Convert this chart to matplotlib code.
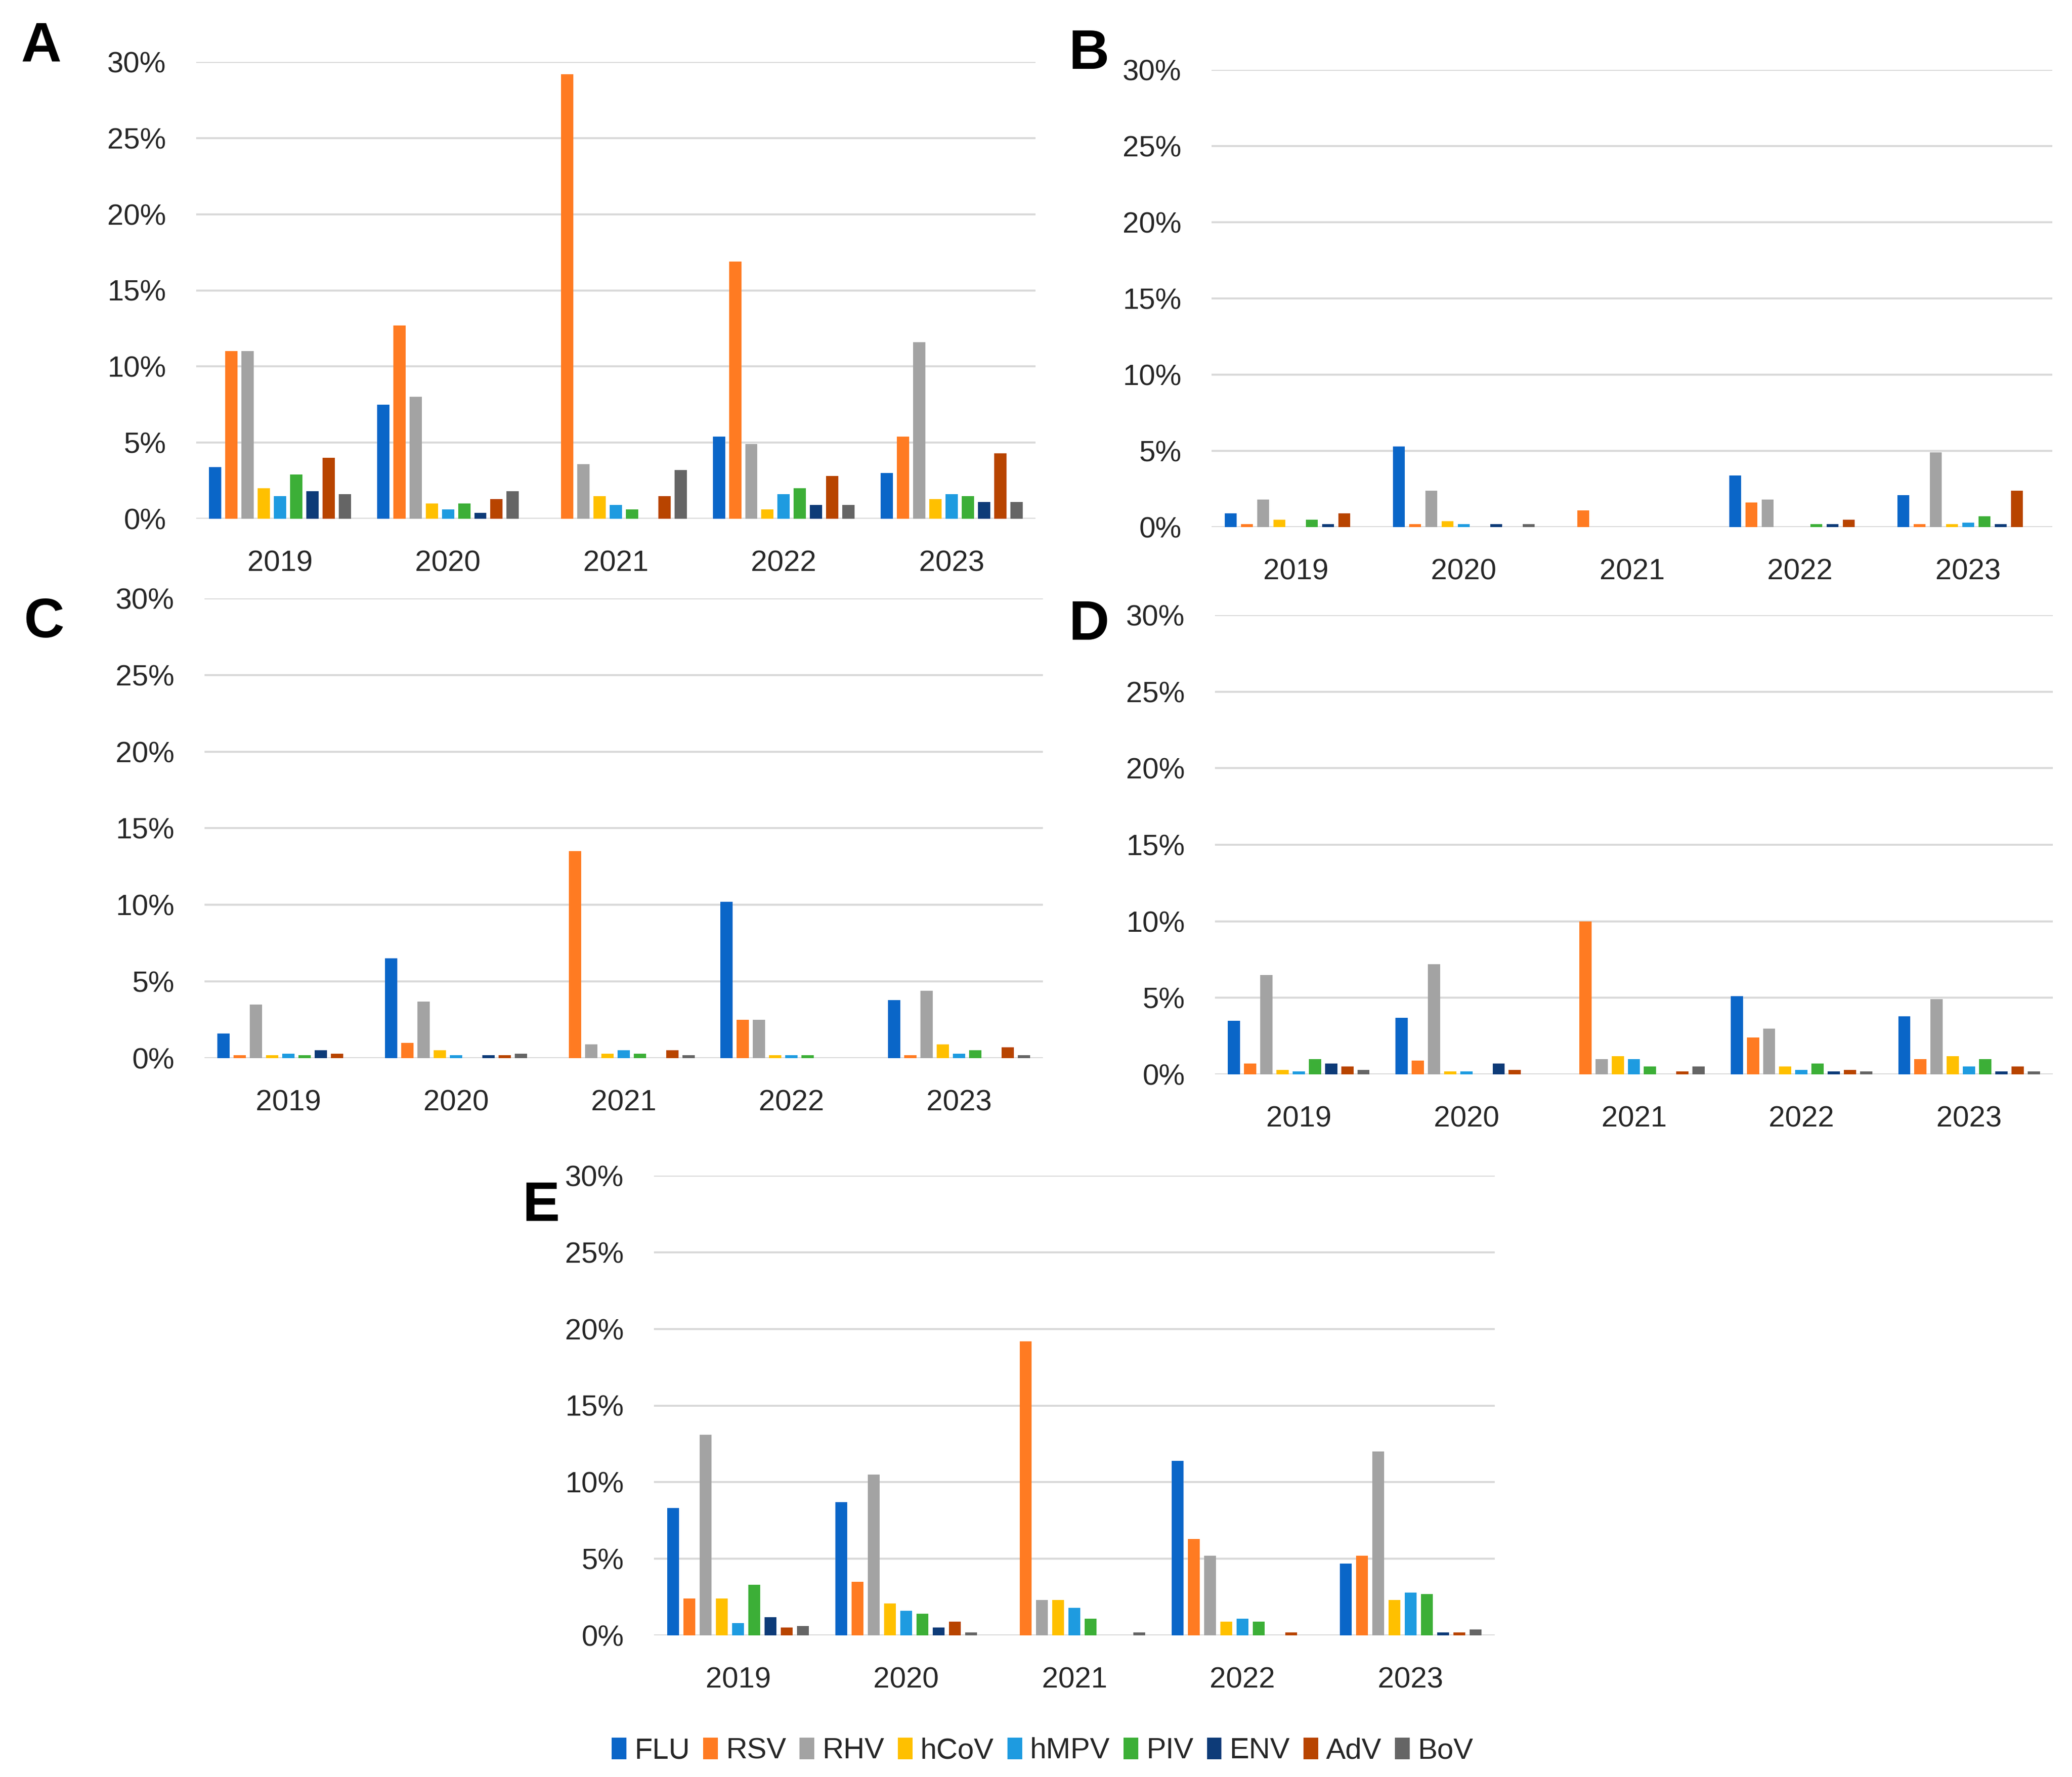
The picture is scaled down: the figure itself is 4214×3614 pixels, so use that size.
import numpy as np
import matplotlib
matplotlib.use("Agg")
import matplotlib.pyplot as plt
from matplotlib.patches import Patch

plt.rcParams['font.family'] = ['Liberation Sans Narrow', 'Liberation Sans', 'DejaVu Sans']

years = ['2019', '2020', '2021', '2022', '2023']
viruses = ['FLU', 'RSV', 'RHV', 'hCoV', 'hMPV', 'PIV', 'ENV', 'AdV', 'BoV']
colors = ['#0A66C8', '#FF7B22', '#A3A3A3', '#FFC000', '#1E9BE0',
          '#3CAF37', '#0D3B78', '#B84400', '#656565']

# positivity (%) per virus, one list per year
# panel A
a_2019 = [3.4, 11.0, 11.0, 2.0, 1.5, 2.9, 1.8, 4.0, 1.6]
a_2020 = [7.5, 12.7, 8.0, 1.0, 0.6, 1.0, 0.4, 1.3, 1.8]
a_2021 = [0.0, 29.2, 3.6, 1.5, 0.9, 0.6, 0.0, 1.5, 3.2]
a_2022 = [5.4, 16.9, 4.9, 0.6, 1.6, 2.0, 0.9, 2.8, 0.9]
a_2023 = [3.0, 5.4, 11.6, 1.3, 1.6, 1.5, 1.1, 4.3, 1.1]
# panel B
b_2019 = [0.9, 0.2, 1.8, 0.5, 0.0, 0.5, 0.2, 0.9, 0.0]
b_2020 = [5.3, 0.2, 2.4, 0.4, 0.2, 0.0, 0.2, 0.0, 0.2]
b_2021 = [0.0, 1.1, 0.0, 0.0, 0.0, 0.0, 0.0, 0.0, 0.0]
b_2022 = [3.4, 1.6, 1.8, 0.0, 0.0, 0.2, 0.2, 0.5, 0.0]
b_2023 = [2.1, 0.2, 4.9, 0.2, 0.3, 0.7, 0.2, 2.4, 0.0]
# panel C
c_2019 = [1.6, 0.2, 3.5, 0.2, 0.3, 0.2, 0.5, 0.3, 0.0]
c_2020 = [6.5, 1.0, 3.7, 0.5, 0.2, 0.0, 0.2, 0.2, 0.3]
c_2021 = [0.0, 13.5, 0.9, 0.3, 0.5, 0.3, 0.0, 0.5, 0.2]
c_2022 = [10.2, 2.5, 2.5, 0.2, 0.2, 0.2, 0.0, 0.0, 0.0]
c_2023 = [3.8, 0.2, 4.4, 0.9, 0.3, 0.5, 0.0, 0.7, 0.2]
# panel D
d_2019 = [3.5, 0.7, 6.5, 0.3, 0.2, 1.0, 0.7, 0.5, 0.3]
d_2020 = [3.7, 0.9, 7.2, 0.2, 0.2, 0.0, 0.7, 0.3, 0.0]
d_2021 = [0.0, 10.0, 1.0, 1.2, 1.0, 0.5, 0.0, 0.2, 0.5]
d_2022 = [5.1, 2.4, 3.0, 0.5, 0.3, 0.7, 0.2, 0.3, 0.2]
d_2023 = [3.8, 1.0, 4.9, 1.2, 0.5, 1.0, 0.2, 0.5, 0.2]
# panel E
e_2019 = [8.3, 2.4, 13.1, 2.4, 0.8, 3.3, 1.2, 0.5, 0.6]
e_2020 = [8.7, 3.5, 10.5, 2.1, 1.6, 1.4, 0.5, 0.9, 0.2]
e_2021 = [0.0, 19.2, 2.3, 2.3, 1.8, 1.1, 0.0, 0.0, 0.2]
e_2022 = [11.4, 6.3, 5.2, 0.9, 1.1, 0.9, 0.0, 0.2, 0.0]
e_2023 = [4.7, 5.2, 12.0, 2.3, 2.8, 2.7, 0.2, 0.2, 0.4]

panels = {
    'A': [a_2019, a_2020, a_2021, a_2022, a_2023],
    'B': [b_2019, b_2020, b_2021, b_2022, b_2023],
    'C': [c_2019, c_2020, c_2021, c_2022, c_2023],
    'D': [d_2019, d_2020, d_2021, d_2022, d_2023],
    'E': [e_2019, e_2020, e_2021, e_2022, e_2023],
}

W, H = 4214, 3614
fig = plt.figure(figsize=(W / 100, H / 100), dpi=100)

# pixel boxes of the plot areas: (left, right, top(30%), bottom(0%)) and letter position
boxes = {
    'A': ((399, 2106, 126, 1055), (42, 125)),
    'B': ((2464, 4174, 142, 1072), (2173, 140)),
    'C': ((416, 2121, 1217, 2152), (48, 1296)),
    'D': ((2471, 4175, 1251, 2185), (2173, 1301)),
    'E': ((1330, 3040, 2391, 3326), (1062, 2483)),
}

fs = 43
slot = 0.0965
bw = 0.073
x = np.arange(len(years))

for key, (box, letter) in boxes.items():
    l, r, t, b = box
    ax = fig.add_axes([l / W, 1 - b / H, (r - l) / W, (b - t) / H])
    data = np.array(panels[key])  # years x viruses
    for i, v in enumerate(viruses):
        ax.bar(x + (i - 4) * slot, data[:, i], width=bw, color=colors[i], zorder=3)
    ax.set_xlim(-0.5, 4.5)
    ax.set_ylim(0, 30)
    ax.set_yticks(range(0, 31, 5))
    ax.set_yticklabels([f'{v}%' for v in range(0, 31, 5)])
    ax.set_xticks(x)
    ax.set_xticklabels(years)
    ax.yaxis.grid(True, color='#D9D9D9', linewidth=2.9)
    ax.set_axisbelow(True)
    for s in ax.spines.values():
        s.set_visible(False)
    ax.tick_params(axis='both', length=0, labelsize=fs, colors='#262626')
    ax.tick_params(axis='y', pad=44)
    ax.tick_params(axis='x', pad=46)
    fig.text(letter[0] / W, 1 - letter[1] / H, key, fontsize=82, fontweight='bold',
             family=['Liberation Sans', 'DejaVu Sans'], ha='left', va='baseline')

handles = [Patch(facecolor=c, edgecolor='none') for c in colors]
fig.legend(handles, viruses, loc='center', bbox_to_anchor=(2120 / W, 1 - 3561 / H),
           ncol=9, frameon=False, fontsize=fs, handlelength=0.5, handleheight=0.75,
           handletextpad=0.27, columnspacing=0.46, labelcolor='#262626')

fig.savefig('out.png', dpi=100, facecolor='white')
